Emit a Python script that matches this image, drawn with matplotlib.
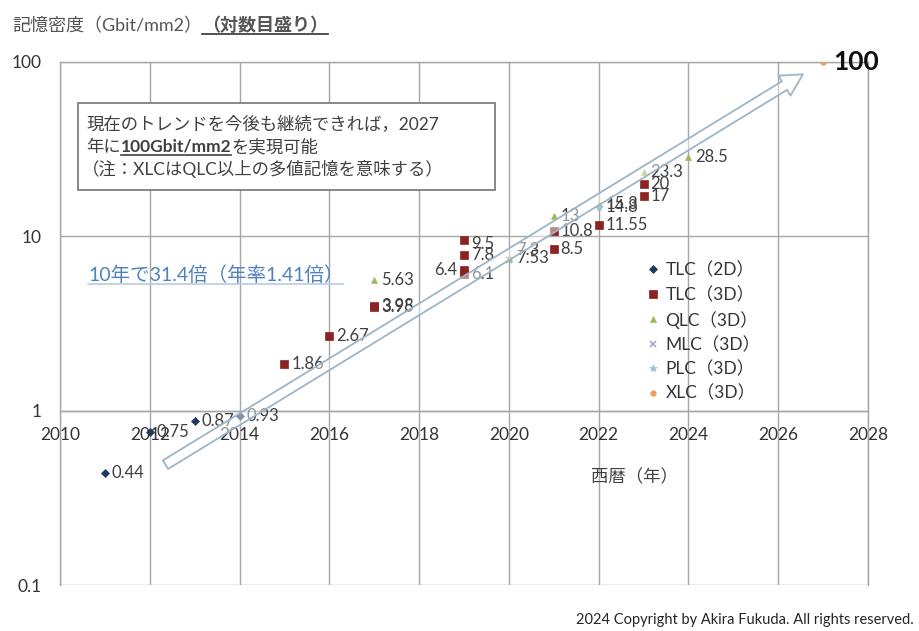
import matplotlib
matplotlib.use("Agg")
import matplotlib.pyplot as plt
from matplotlib.lines import Line2D
from matplotlib.patches import Rectangle
from matplotlib.ticker import NullLocator

plt.rcParams['font.family'] = ['Lato', 'Noto Sans CJK JP', 'DejaVu Sans']

# 記憶密度 (Gbit/mm2) の推移
TLC2D_YEAR = [2011, 2012, 2013, 2014]
TLC2D_VAL = [0.44, 0.75, 0.87, 0.93]

TLC3D_YEAR = [2015, 2016, 2017, 2017, 2019, 2019, 2019, 2019, 2021, 2021, 2022, 2023, 2023]
TLC3D_VAL = [1.86, 2.67, 3.95, 3.98, 9.5, 7.8, 6.4, 6.1, 8.5, 10.8, 11.55, 20, 17]

QLC3D_YEAR = [2017, 2020, 2021, 2022, 2023, 2024]
QLC3D_VAL = [5.63, 7.53, 13, 15.3, 23.3, 28.5]

MLC3D_YEAR = [2020]
MLC3D_VAL = [7.3]

PLC3D_YEAR = [2022]
PLC3D_VAL = [14.8]

XLC3D_YEAR = [2027]
XLC3D_VAL = [100]

X_TICKS = list(range(2010, 2029, 2))
Y_TICKS = [0.1, 1, 10, 100]
Y_TICK_LABELS = ['0.1', '1', '10', '100']

# トレンド矢印 (始点, 終点)
ARROW_TAIL = (2012.35, 0.49)
ARROW_HEAD = (2026.55, 85)

W, H = 920, 631
fig = plt.figure(figsize=(W / 100, H / 100), dpi=100)
ax = fig.add_axes([60 / W, 1 - 585 / H, 808 / W, 523 / H])

ax.set_yscale('log')
ax.set_xlim(2010, 2028)
ax.set_ylim(0.1, 100)
ax.set_xticks(X_TICKS)
ax.set_yticks(Y_TICKS)
ax.set_yticklabels(Y_TICK_LABELS)
ax.yaxis.set_minor_locator(NullLocator())
ax.grid(True, color='#a6a6a6', lw=1.0)
ax.set_axisbelow(True)
for s in ax.spines.values():
    s.set_color('#a6a6a6')
    s.set_linewidth(1.0)
# 横軸は 1 の位置に置く
ax.spines['bottom'].set_position(('data', 1))
ax.tick_params(axis='both', length=0, labelsize=12.5, labelcolor='#333333')
ax.tick_params(axis='x', pad=12)
ax.tick_params(axis='y', pad=13)

series = [
    ('TLC（2D）', TLC2D_YEAR, TLC2D_VAL, 'D', 4, '#1f3a5f'),
    ('TLC（3D）', TLC3D_YEAR, TLC3D_VAL, 's', 6, '#8b2323'),
    ('QLC（3D）', QLC3D_YEAR, QLC3D_VAL, '^', 5, '#9bbb59'),
    ('MLC（3D）', MLC3D_YEAR, MLC3D_VAL, 'x', 5, '#b3a2c7'),
    ('PLC（3D）', PLC3D_YEAR, PLC3D_VAL, '*', 6, '#a5c3d6'),
    ('XLC（3D）', XLC3D_YEAR, XLC3D_VAL, 'o', 4, '#e8a060'),
]

# ラベル位置の微調整 (points)
nudge = {6.4: (-5, 0), 7.3: (5, 7), 9.5: (5, -3)}

for name, xs, ys, mk, ms, col in series:
    ax.plot(xs, ys, linestyle='none', marker=mk, ms=ms, color=col,
            mew=1.2 if mk == 'x' else 0.5, label=name, zorder=3)
    for x, y in zip(xs, ys):
        if y == 100:
            ax.annotate(f"{y:g}", (x, y), xytext=(7, 0), textcoords='offset points',
                        va='center', ha='left', fontsize=19, weight='bold', color='#111111')
            continue
        dx, dy = nudge.get(y, (5, 0))
        ax.annotate(f"{y:g}", (x, y), xytext=(dx, dy), textcoords='offset points',
                    va='center', ha='left' if dx > 0 else 'right',
                    fontsize=12, color='#404040', zorder=4)

ax.annotate('', xy=ARROW_HEAD, xytext=ARROW_TAIL,
            arrowprops=dict(arrowstyle='simple,head_length=1.3,head_width=1.4,tail_width=0.6',
                            fc=(1, 1, 1, 0.45), ec='#9db5c6', lw=1.3,
                            mutation_scale=12, shrinkA=0, shrinkB=0),
            zorder=5)

leg = ax.legend(loc='upper left', bbox_to_anchor=(648 / W, 1 - 262 / H),
                bbox_transform=fig.transFigure, frameon=False, fontsize=12.5,
                handlelength=0.6, handletextpad=0.4, labelspacing=0.45,
                borderpad=0, borderaxespad=0)
for t in leg.get_texts():
    t.set_color('#333333')

renderer = fig.canvas.get_renderer()


def put_runs(x, y, parts, size, color):
    # 文字列を左から順に並べる (x, y はピクセル, y はベースライン)
    for s, bold, ul in parts:
        t = fig.text(x / W, 1 - y / H, s, fontsize=size, color=color,
                     weight='bold' if bold else 'normal', ha='left', va='baseline')
        bb = t.get_window_extent(renderer)
        if ul:
            yl = (H - y - 3) / H
            fig.add_artist(Line2D([bb.x0 / W, bb.x1 / W], [yl, yl],
                                  color=ul, lw=1.2))
        x += bb.width
    return x


# タイトル
put_runs(12, 31, [('記憶密度（Gbit/mm2）', False, None),
                  ('（対数目盛り）', True, '#333333')], 13, '#555555')

# 注記ボックス
fig.add_artist(Rectangle((78 / W, 1 - 190 / H), 417 / W, 87 / H,
                         transform=fig.transFigure, fc='white', ec='#7f7f7f', lw=1.3))
put_runs(86, 130, [('現在のトレンドを今後も継続できれば，2027', False, None)], 12.5, '#404040')
put_runs(86, 152, [('年に', False, None), ('100Gbit/mm2', True, '#404040'),
                   ('を実現可能', False, None)], 12.5, '#404040')
put_runs(82, 175, [('（注：XLCはQLC以上の多値記憶を意味する）', False, None)], 12.5, '#404040')

put_runs(88, 281, [('10年で31.4倍（年率1.41倍）', False, '#b8cce4')], 14, '#4f81bd')

fig.text(634 / W, 1 - 477 / H, '西暦（年）', fontsize=12.5, color='#404040',
         ha='center', va='center')

fig.text(914 / W, 1 - 620 / H, '2024 Copyright by Akira Fukuda. All rights reserved.',
         fontsize=10.5, color='#262626', ha='right', va='center')

fig.savefig('out.png', dpi=100)
